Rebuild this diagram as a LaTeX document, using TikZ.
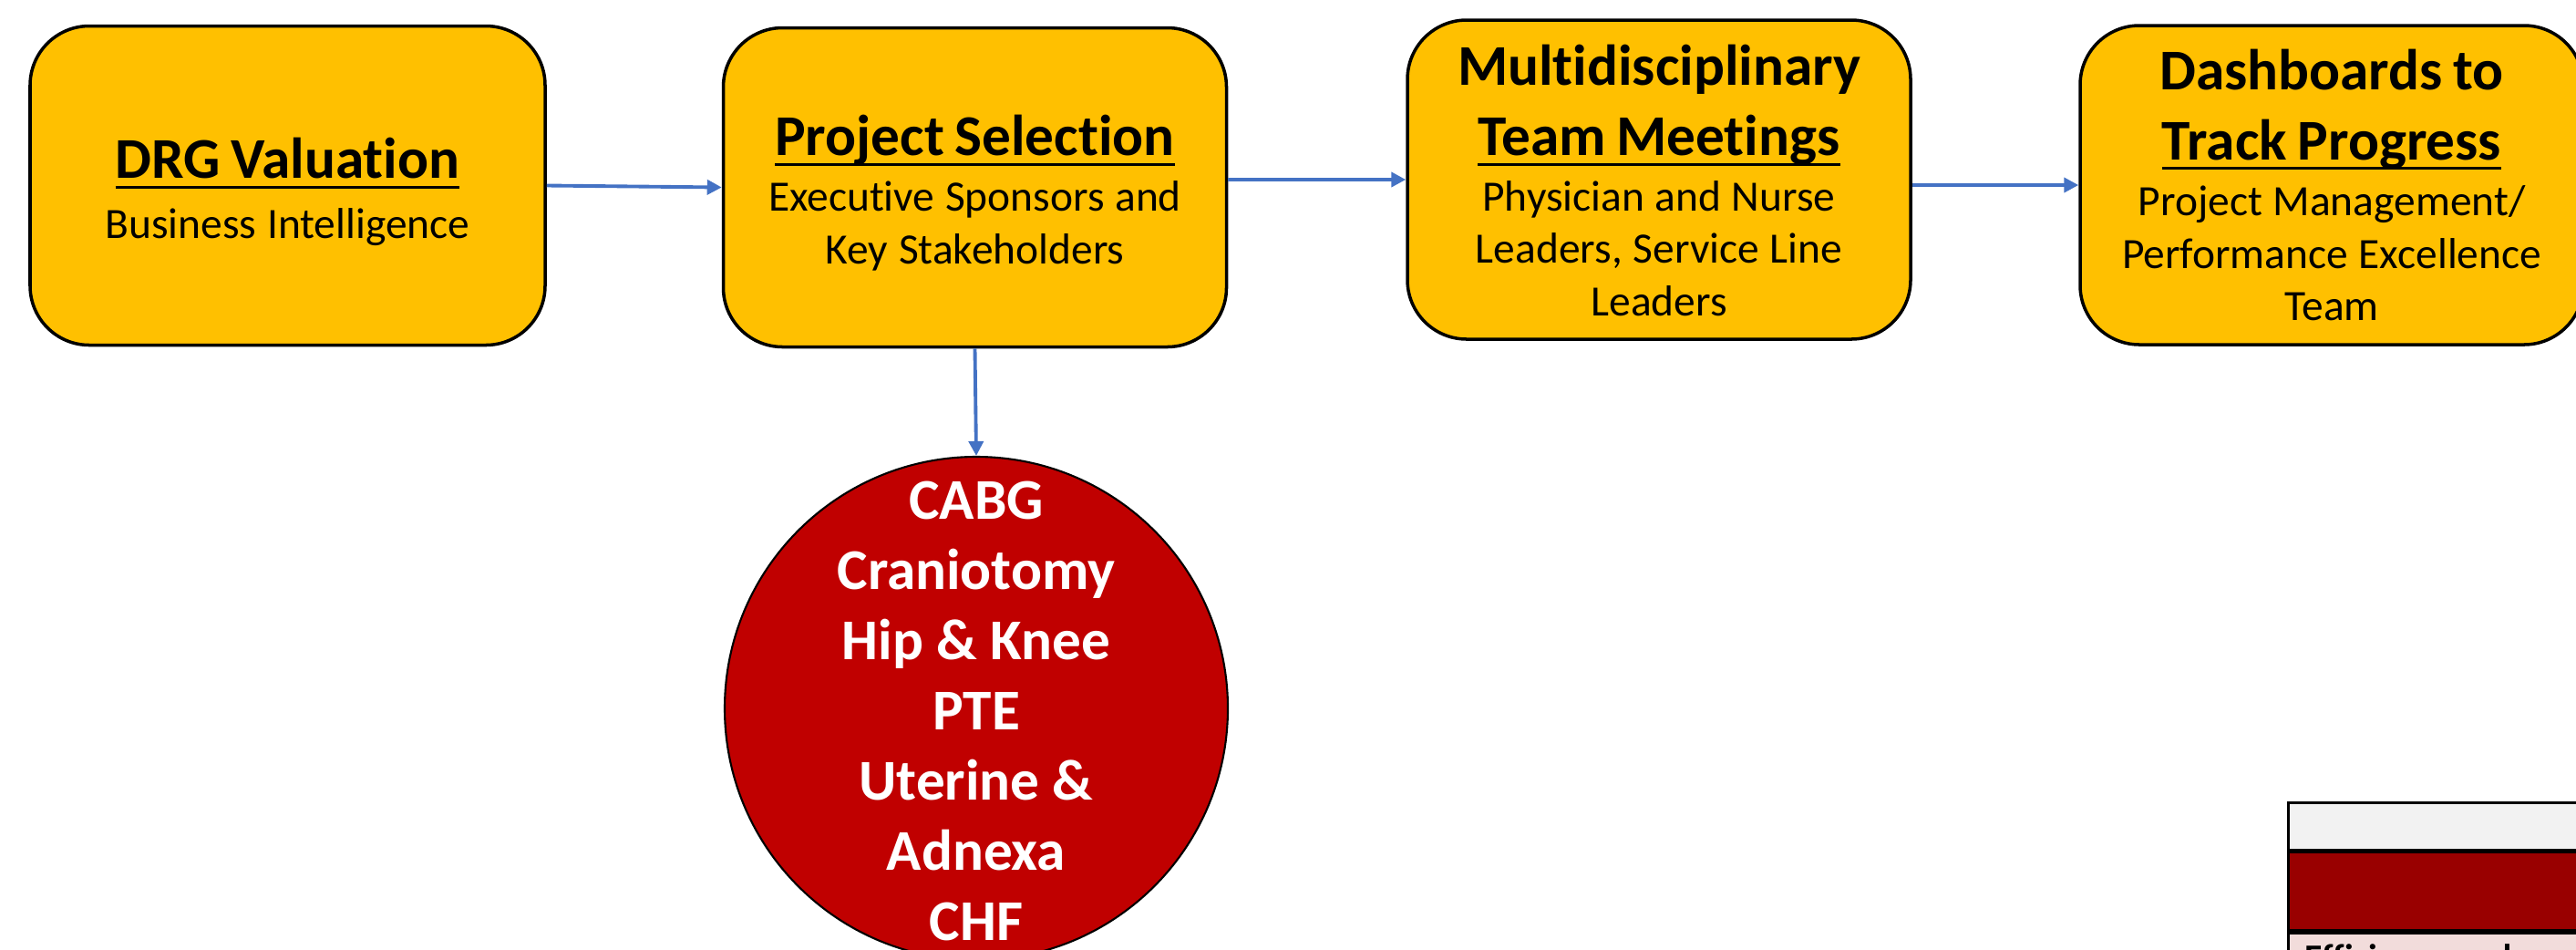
\documentclass[tikz,border=0pt]{standalone}
\usepackage{fontspec}
\setmainfont{Carlito}[Ligatures=NoCommon]
\usetikzlibrary{arrows.meta}
\definecolor{gold}{HTML}{FFC000}
\definecolor{cred}{HTML}{C00000}
\definecolor{lblue}{HTML}{4472C4}
\definecolor{tgray}{HTML}{F2F2F2}
\definecolor{tred}{HTML}{990000}
\definecolor{tpink}{HTML}{F2DCDB}
\newcommand\boxw{5.52}
\newcommand\ttl{\fontsize{18}{21.9}\selectfont\bfseries}
\newcommand\bdy{\fontsize{13.5}{16.4}\selectfont}
\newcommand\ul[1]{\leavevmode\setbox0\hbox{#1}\rlap{\rule[-3.2pt]{\wd0}{0.85pt}}\box0}

\begin{document}
\begin{tikzpicture}[stage/.style={rectangle, rounded corners=0.65cm, draw, line width=1pt, fill=gold, minimum width=\boxw cm, minimum height=3.5cm, inner sep=0pt}, txt/.style={text width=5.3cm, align=center, inner sep=0pt}, proc/.style={circle, draw, line width=0.6pt, fill=cred, minimum size=\boxw cm, inner sep=0pt}, link/.style={->, lblue, line width=1.1pt}, >={Triangle[length=1.6mm, width=1.6mm]}]
    \path[use as bounding box, clip] (0,0) rectangle (28.26,-10.41);

    \node at (3.155,-2.035) [stage, minimum width=5.65cm] (drg) {};
    \node at (10.695,-2.055) [stage] (sel) {};
    \node at (18.20,-1.97) [stage] (mdt) {};
    \node at (25.58,-2.03) [stage] (dash) {};

    \node at (drg.center) [txt, yshift=-0.07cm] (drgtxt) {{\ttl\ul{DRG Valuation}\par}\vspace{2.3pt}{\bdy Business Intelligence\par}};
    \node at (sel.center) [txt, yshift=-0.06cm] (seltxt) {{\ttl\ul{Project Selection}\par}\vspace{1.1pt}{\bdy Executive Sponsors and\\Key Stakeholders\par}};
    \node at (mdt.center) [txt, yshift=-0.01cm] (mdttxt) {{\ttl Multidisciplinary\\\ul{Team Meetings}\par}\vspace{0.8pt}{\bdy Physician and Nurse\\Leaders, Service Line\\Leaders\par}};
    \node at (dash.center) [txt] (dashtxt) {{\ttl Dashboards to\\\ul{Track Progress}\par}\vspace{1.1pt}{\bdy Project Management/\\Performance Excellence\\Team\par}};

    \node at (10.71,-7.77) [proc] (cases) {};
    \node at (cases.center) [yshift=-0.03cm, font=\ttl, text=white, align=center] (caselist) {CABG\\Craniotomy\\Hip \& Knee\\PTE\\Uterine \&\\Adnexa\\CHF};

    \draw[link] (drg.east) -- (sel.west);
    \draw[link] (sel.east |- mdt.west) -- (mdt.west);
    \draw[link] (mdt.east |- dash.west) -- (dash.west);
    \draw[link] (sel.south) -- (cases.north);

    %Table
    \fill[tgray] (25.10,-8.80) rectangle (28.4,-9.32);
    \fill[tred] (25.10,-9.36) rectangle (28.4,-10.20);
    \fill[tpink] (25.10,-10.25) rectangle (28.4,-10.7);
    \draw[line width=0.9pt] (25.105,-10.7) -- (25.105,-8.805) -- (28.4,-8.805);
    \draw[line width=1.4pt] (25.10,-9.335) -- (28.4,-9.335);
    \draw[line width=1.7pt] (25.10,-10.22) -- (28.4,-10.22);
    \node at (25.28,-10.63) [anchor=base west, font=\fontsize{11.3}{13.5}\selectfont\bfseries, inner sep=0pt] (eff) {Efficiency and};
\end{tikzpicture}
\end{document}
